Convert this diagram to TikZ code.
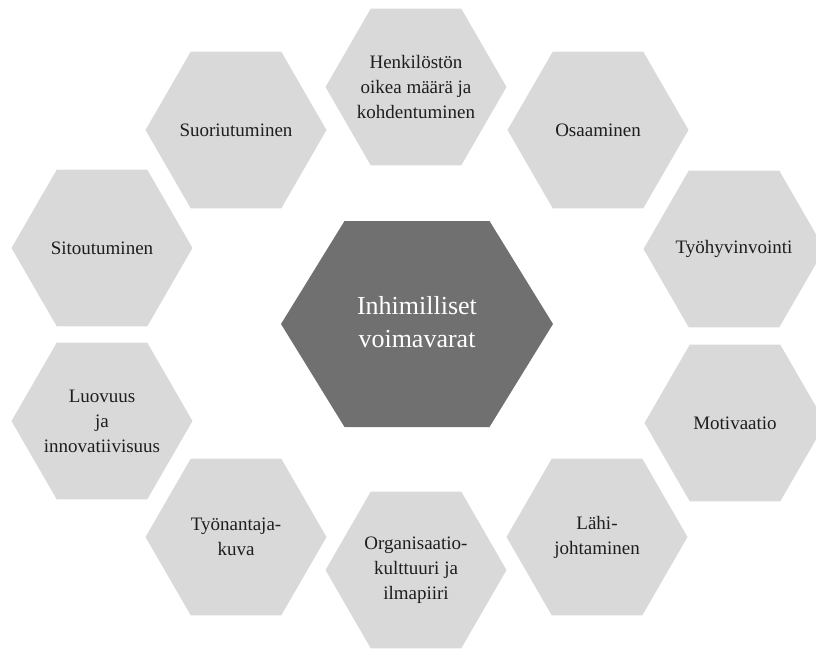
\documentclass[tikz,border=0pt]{standalone}
\usepackage{fontspec}
\setmainfont{Liberation Serif}
\usetikzlibrary{shapes.geometric}
\definecolor{hexlight}{HTML}{D9D9D9}
\definecolor{hexdark}{HTML}{707070}
\definecolor{hextext}{HTML}{1E1E1E}
\tikzset{
  hexnode/.style={regular polygon, regular polygon sides=6, minimum size=181pt,
    inner sep=0pt, outer sep=0pt, fill=hexlight},
  hexlabel/.style={inner sep=0pt, text=hextext, align=center,
    font=\fontsize{19}{25}\selectfont},
  coretext/.style={inner sep=0pt, text=white, align=center,
    font=\fontsize{26}{33}\selectfont}
}
\begin{document}
\begin{tikzpicture}[x=1pt,y=-1pt]
\useasboundingbox (0,0) rectangle (816,648);
% central hexagon
\fill[hexdark] (281,324) -- (344.5,221) -- (489.5,221) -- (553,324) -- (489.5,427) -- (344.5,427) -- cycle;
\node[coretext] (core) at (417,322) {Inhimilliset\\voimavarat};
% outer hexagons
\node[hexnode] (henk) at (416,87) {};
\node[hexnode] (suor) at (236,130) {};
\node[hexnode] (osaa) at (598,130) {};
\node[hexnode] (sito) at (102,248) {};
\node[hexnode] (tyoh) at (734,249) {};
\node[hexnode] (luov) at (102,421) {};
\node[hexnode] (moti) at (735,423) {};
\node[hexnode] (tyon) at (236,537) {};
\node[hexnode] (lahi) at (597,537) {};
\node[hexnode] (orga) at (416,570) {};
% labels
\node[hexlabel] (henkt) at (henk) {Henkilöstön\\oikea määrä ja\\kohdentuminen};
\node[hexlabel] (suort) at (suor) {Suoriutuminen};
\node[hexlabel] (osaat) at (osaa) {Osaaminen};
\node[hexlabel] (sitot) at (sito) {Sitoutuminen};
\node[hexlabel] (tyoht) at (tyoh) {Työhyvinvointi};
\node[hexlabel] (luovt) at (luov) {Luovuus\\ja\\innovatiivisuus};
\node[hexlabel] (motit) at (moti) {Motivaatio};
\node[hexlabel] (tyont) at (tyon) {Työnantaja-\\kuva};
\node[hexlabel] (lahit) at (lahi) {Lähi-\\johtaminen};
\node[hexlabel] (orgat) at (orga) {Organisaatio-\\kulttuuri ja\\ilmapiiri};
\end{tikzpicture}
\end{document}
